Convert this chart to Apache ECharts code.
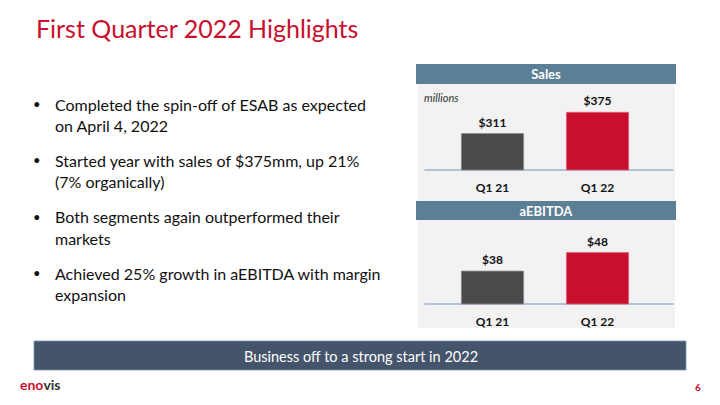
<!DOCTYPE html>
<html>
<head>
<meta charset="utf-8">
<script src="https://cdn.jsdelivr.net/npm/echarts@6/dist/echarts.min.js"></script>
<style>
html,body{margin:0;padding:0;background:#fff;}
#c{width:720px;height:405px;}
</style>
</head>
<body>
<div id="c"></div>
<script>
// ---- data ----
var titleText = 'First Quarter 2022 Highlights';
var categories = ['Q1 21', 'Q1 22'];
var salesValues = [311, 375];
var ebitdaValues = [38, 48];
var salesLabel = 'Sales';
var ebitdaLabel = 'aEBITDA';
var unitNote = 'millions';
var bullets = [
  ['Completed the spin-off of ESAB as expected', 'on April 4, 2022'],
  ['Started year with sales of $375mm, up 21%', '(7% organically)'],
  ['Both segments again outperformed their', 'markets'],
  ['Achieved 25% growth in aEBITDA with margin', 'expansion']
];
var bannerText = 'Business off to a strong start in 2022';
var pageNumber = '6';

// ---- styles ----
var RED = '#c8102e';
var DARK = '#4a4a4c';
var FONT = 'Lato, "Open Sans", sans-serif';
var HEADER = '#5b7f95';
var PANEL = '#f2f2f2';
var BASE = '#9fb4cc';

var chart = echarts.init(document.getElementById('c'), null, {renderer: 'svg'});

var graphics = [];
graphics.push({type: 'text', left: 36, top: 15, style: {text: titleText, fill: RED, font: '25px ' + FONT}});
// panel background and headers
graphics.push({type: 'rect', shape: {x: 418, y: 64, width: 257, height: 264}, style: {fill: PANEL}, z: -10});
graphics.push({type: 'rect', shape: {x: 416, y: 64, width: 260, height: 20}, style: {fill: HEADER}, z: -5});
graphics.push({type: 'rect', shape: {x: 416, y: 201, width: 260, height: 19}, style: {fill: HEADER}, z: -5});
graphics.push({type: 'text', x: 546, y: 74, style: {text: salesLabel, fill: '#fff', font: 'bold 13px ' + FONT, align: 'center', verticalAlign: 'middle'}});
graphics.push({type: 'text', x: 546, y: 210.5, style: {text: ebitdaLabel, fill: '#fff', font: 'bold 13px ' + FONT, align: 'center', verticalAlign: 'middle'}});
graphics.push({type: 'text', x: 424, y: 97, style: {text: unitNote, fill: '#333', font: 'italic 11px ' + FONT, verticalAlign: 'middle'}});
// bullets
bullets.forEach(function (b, i) {
  var y0 = 104 + i * 56.4;
  graphics.push({type: 'text', x: 33, y: y0, style: {text: '\u2022', fill: '#111', font: '13px ' + FONT, verticalAlign: 'middle'}});
  b.forEach(function (line, j) {
    graphics.push({type: 'text', x: 55, y: y0 + j * 21.5, style: {text: line, fill: '#111', font: '16px ' + FONT, verticalAlign: 'middle'}});
  });
});
// banner
graphics.push({type: 'rect', shape: {x: 34, y: 341, width: 652, height: 29}, style: {fill: '#44546a', stroke: '#8496b0', lineWidth: 0.8}});
graphics.push({type: 'text', x: 361, y: 356, style: {text: bannerText, fill: '#fff', font: '14.5px ' + FONT, align: 'center', verticalAlign: 'middle'}});
// logo + page number
graphics.push({type: 'text', x: 20, y: 384, style: {
  text: '{r|eno}{g|vis}', verticalAlign: 'middle',
  rich: {r: {fill: RED, font: 'bold 14px ' + FONT}, g: {fill: '#333', font: 'bold 14px ' + FONT}}
}});
graphics.push({type: 'text', x: 695, y: 387, style: {text: pageNumber, fill: RED, font: 'bold 10px ' + FONT, verticalAlign: 'middle'}});

function xAxisFor(gi) {
  return {
    type: 'value', gridIndex: gi, min: -0.643, max: 1.719,
    splitLine: {show: false},
    axisLine: {show: true, onZero: false, lineStyle: {color: BASE, width: 1.5}},
    axisTick: {show: false},
    axisLabel: {
      customValues: [0, 1], margin: 11, color: '#111',
      fontFamily: FONT, fontWeight: 'bold', fontSize: 12,
      formatter: function (v) { return categories[Math.round(v)]; }
    }
  };
}
function yAxisFor(gi, mn, mx) {
  return {type: 'value', gridIndex: gi, min: mn, max: mx, show: false, splitLine: {show: false}};
}
function barData(vals) {
  return vals.map(function (v, i) {
    return {
      value: [i, v],
      itemStyle: {color: i === 0 ? DARK : RED, borderColor: i === 0 ? '#8a8a8a' : '#e0607a', borderWidth: 0.8}
    };
  });
}
function barSeries(gi, vals) {
  return {
    type: 'bar', xAxisIndex: gi, yAxisIndex: gi, barWidth: 63,
    data: barData(vals),
    label: {
      show: true, position: 'top', distance: 5, color: '#111',
      fontFamily: FONT, fontWeight: 'bold', fontSize: 12,
      formatter: function (p) { return '$' + p.value[1]; }
    },
    silent: true
  };
}

chart.setOption({
  animation: false,
  backgroundColor: '#fff',
  grid: [
    {left: 425, top: 87, width: 248, height: 83},
    {left: 425, top: 230, width: 248, height: 74}
  ],
  xAxis: [xAxisFor(0), xAxisFor(1)],
  yAxis: [yAxisFor(0, 200, 450), yAxisFor(1, 20, 60)],
  series: [barSeries(0, salesValues), barSeries(1, ebitdaValues)],
  graphic: graphics
});
</script>
</body>
</html>
